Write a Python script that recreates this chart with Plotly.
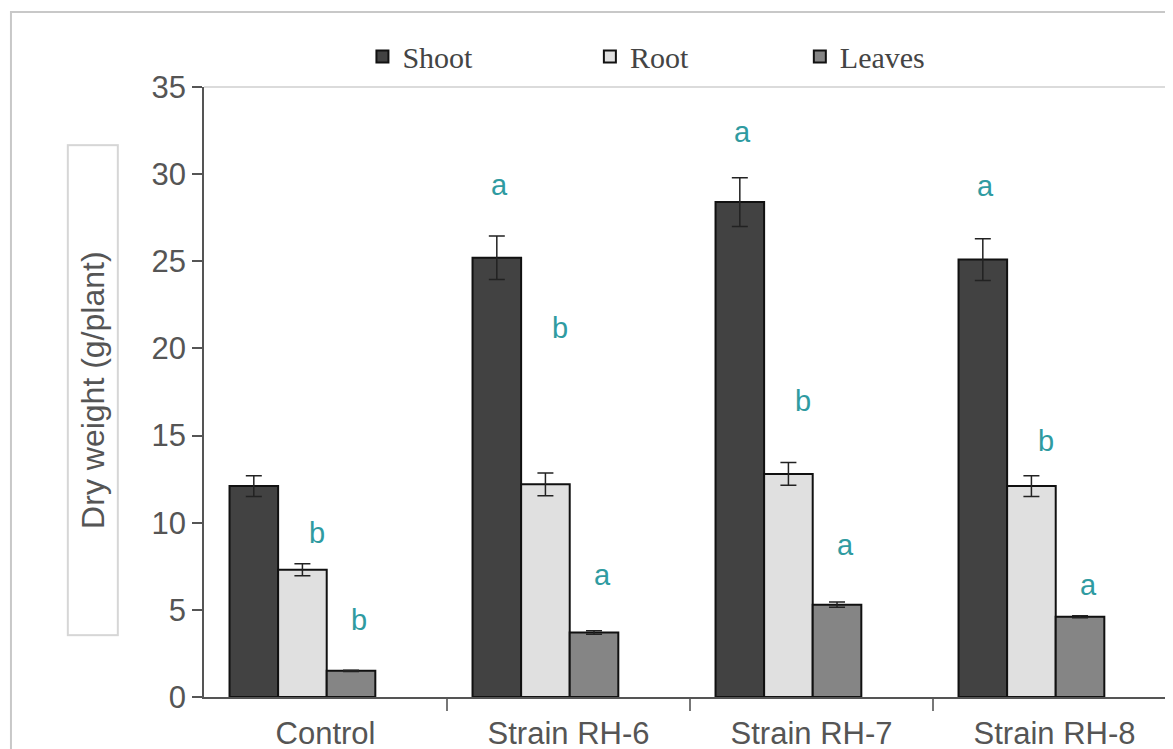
import plotly.graph_objects as go

# ---- data ----
categories = ["Control", "Strain RH-6", "Strain RH-7", "Strain RH-8"]
series_names = ["Shoot", "Root", "Leaves"]
shoot = [12.1, 25.2, 28.4, 25.1]
shoot_err = [0.6, 1.25, 1.4, 1.2]
root = [7.3, 12.2, 12.8, 12.1]
root_err = [0.35, 0.65, 0.65, 0.6]
leaves = [1.5, 3.7, 5.3, 4.6]
leaves_err = [0.03, 0.1, 0.15, 0.06]

# significance letters and the height (in data units) where each is printed
shoot_letters = ["", "a", "a", "a"]
shoot_letter_y = [None, 29.4, 32.4, 29.3]
root_letters = ["b", "b", "b", "b"]
root_letter_y = [9.4, 21.2, 17.0, 14.7]
leaves_letters = ["b", "a", "a", "a"]
leaves_letter_y = [4.4, 7.0, 8.7, 6.4]

y_ticks = [0, 5, 10, 15, 20, 25, 30, 35]

# ---- styles ----
colors = ["#424242", "#e0e0e0", "#858585"]
offsets = [-0.395, -0.195, 0.005]
letter_xshift = [3, 15, 8]
bar_w = 0.2
letter_color = "#2f9ba1"
sans = "Liberation Sans, Arial, sans-serif"
serif = "Liberation Serif, Times New Roman, serif"

xs = list(range(len(categories)))
values = [shoot, root, leaves]
errors = [shoot_err, root_err, leaves_err]
legends = ["legend", "legend2", "legend3"]

fig = go.Figure()
for k in range(3):
    fig.add_trace(go.Bar(
        x=xs, y=values[k], name=series_names[k],
        width=bar_w, offset=offsets[k],
        marker=dict(color=colors[k], line=dict(color="#111111", width=2)),
        error_y=dict(type="data", array=errors[k], color="#222222", thickness=1.5, width=8),
        legend=legends[k],
    ))

letters = [shoot_letters, root_letters, leaves_letters]
letter_y = [shoot_letter_y, root_letter_y, leaves_letter_y]
for k in range(3):
    for i in xs:
        if letters[k][i]:
            fig.add_annotation(
                x=i + offsets[k] + bar_w / 2, y=letter_y[k][i], xref="x", yref="y",
                text=letters[k][i], showarrow=False, xshift=letter_xshift[k],
                font=dict(family=sans, size=29, color=letter_color),
            )

# y-axis title in a framed box
fig.add_annotation(
    x=-0.1142, y=0.503, xref="paper", yref="paper", xanchor="center", yanchor="middle",
    text="Dry weight (g/plant)", textangle=-90, showarrow=False,
    width=486, height=46, borderpad=1, borderwidth=2, bordercolor="#d6d6d6",
    font=dict(family=sans, size=32, color="#555555"),
)

# light top line of the plot area and outer frame
fig.add_shape(type="line", xref="paper", yref="paper", x0=0, x1=1, y0=1, y1=1,
              line=dict(color="#cfcfcf", width=1.5))
fig.add_shape(type="rect", xref="paper", yref="paper", x0=-0.1986, x1=1.05, y0=-0.3, y1=1.123,
              line=dict(color="#c8c8c8", width=2))

leg_common = dict(orientation="h", yanchor="middle", y=1.05, xanchor="left",
                  font=dict(family=serif, size=30, color="#444444"),
                  bgcolor="rgba(0,0,0,0)", borderwidth=0)

fig.update_layout(
    width=1173, height=749,
    margin=dict(l=196, r=5, t=79, b=60),
    paper_bgcolor="white", plot_bgcolor="white",
    barmode="overlay",
    showlegend=True,
    legend=dict(x=0.163, **leg_common),
    legend2=dict(x=0.397, **leg_common),
    legend3=dict(x=0.613, **leg_common),
    xaxis=dict(
        range=[-0.5, 3.5],
        tickmode="array", tickvals=xs, ticktext=categories, ticks="",
        ticklabelstandoff=8,
        showgrid=False, zeroline=False,
        showline=True, linecolor="#555555", linewidth=1.5,
        tickfont=dict(family=sans, size=31, color="#555555"),
        minor=dict(tickmode="array", tickvals=[0.5, 1.5, 2.5], ticks="outside",
                   ticklen=12, tickcolor="#777777", tickwidth=1.5, showgrid=False),
    ),
    yaxis=dict(
        range=[0, 35], tickmode="array", tickvals=y_ticks,
        ticks="outside", ticklen=10, tickcolor="#555555", tickwidth=1.5,
        showgrid=False, zeroline=False,
        showline=True, linecolor="#555555", linewidth=1.5,
        tickfont=dict(family=sans, size=31, color="#555555"),
    ),
)

fig.write_html("out.html")
